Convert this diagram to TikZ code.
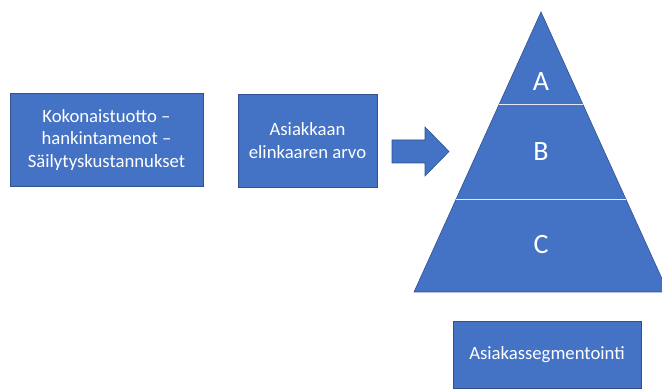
\documentclass[tikz,border=0pt]{standalone}
\usepackage{fontspec}
\setmainfont{Carlito}
\definecolor{blockfill}{HTML}{4472C4}
\definecolor{blockline}{HTML}{2F528F}
\begin{document}
\begin{tikzpicture}[x=1pt,y=-1pt,
  block/.style={draw=blockline,line width=0.6pt,fill=blockfill,text=white,
    font=\fontsize{18.7}{22.5}\selectfont,align=center,inner sep=0pt},
  tier/.style={text=white,font=\fontsize{28}{32}\selectfont}]
\useasboundingbox (0,0) rectangle (662,390);

% left-hand boxes
\node[block,minimum width=193pt,minimum height=93pt] (profit) at (106.5,140)
  {Kokonaistuotto –\\hankintamenot –\\Säilytyskustannukset};
\node[block,minimum width=139pt,minimum height=93pt] (clv) at (307.5,140.5)
  {Asiakkaan\\elinkaaren arvo};

% block arrow
\draw[blockline,line width=0.6pt,fill=blockfill]
  (392,140) -- (425,140) -- (425,127) -- (449,151.5) -- (425,176)
  -- (425,163) -- (392,163) -- cycle;

% pyramid
\begin{scope}
  \clip (0,0) rectangle (662,390);
  \fill[blockfill] (541,12) -- (668,292) -- (414,292) -- cycle;
  \draw[blockline,line width=0.6pt] (541,12) -- (668,292) -- (414,292) -- cycle;
\end{scope}
\draw[white!85!blockfill,line width=0.8pt] (499.3,104) -- (582.7,104);
\draw[white!85!blockfill,line width=0.8pt] (456.2,199) -- (625.8,199);
\node[tier] (tierA) at (541,82) {A};
\node[tier] (tierB) at (541,152) {B};
\node[tier] (tierC) at (541,245) {C};

% caption box
\node[block,minimum width=188pt,minimum height=67pt] (segm) at (547,354.5)
  {Asiakassegmentointi};
\end{tikzpicture}
\end{document}
